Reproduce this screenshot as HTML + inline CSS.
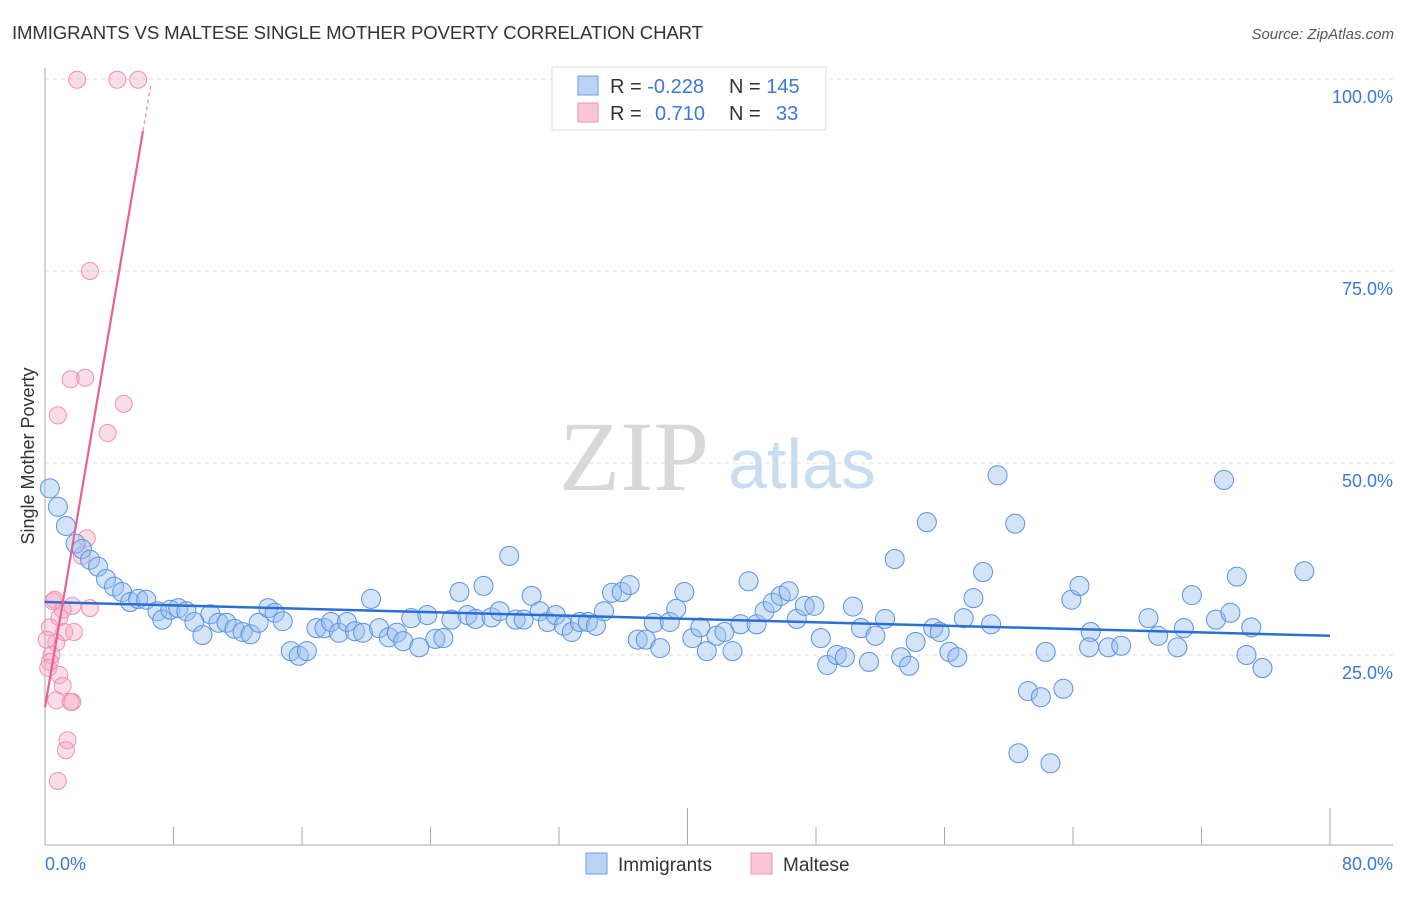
<!DOCTYPE html>
<html><head><meta charset="utf-8"><style>
body{margin:0;background:#fff;font-family:"Liberation Sans",sans-serif}
</style></head><body>
<svg id="chart" width="1406" height="892" viewBox="0 0 1406 892" xmlns="http://www.w3.org/2000/svg" font-family="Liberation Sans, sans-serif">
<text x="12" y="39" font-size="18.6" fill="#333" textLength="691">IMMIGRANTS VS MALTESE SINGLE MOTHER POVERTY CORRELATION CHART</text>
<text x="1394" y="39" font-size="15" fill="#555" font-style="italic" text-anchor="end">Source: ZipAtlas.com</text>
<g>
<text x="634" y="490" font-size="100" fill="#d8d8d8" style="font-family:'Liberation Serif',serif" text-anchor="middle">ZIP</text>
<text x="802" y="488" font-size="70" fill="#c8dcf2" text-anchor="middle">atlas</text>
</g>
<g id="grid"></g>
<g id="axes"></g>
<text transform="translate(34,456) rotate(-90)" font-size="18" fill="#333" text-anchor="middle">Single Mother Poverty</text>
<g id="marks"></g>
<g>
<rect x="552" y="67" width="274" height="63" fill="#fff" stroke="#ddd"/>
<rect x="578" y="76" width="20" height="19" fill="#b9d3f5" stroke="#6b9fe0"/>
<rect x="578" y="103" width="20" height="19" fill="#f9c6d6" stroke="#ec94b0"/>
<text x="610" y="93" font-size="20" fill="#333">R = <tspan fill="#3b78d8">-0.228</tspan></text>
<text x="729" y="93" font-size="20" fill="#333">N = <tspan fill="#3b78d8">145</tspan></text>
<text x="610" y="120" font-size="20" fill="#333">R = <tspan fill="#3b78d8" x="655">0.710</tspan></text>
<text x="729" y="120" font-size="20" fill="#333">N = <tspan fill="#3b78d8" x="776">33</tspan></text>
</g>
<g>
<rect x="586" y="853" width="21" height="21" fill="#b9d3f5" stroke="#6b9fe0"/>
<text x="618" y="871" font-size="19" fill="#333">Immigrants</text>
<rect x="751" y="853" width="21" height="21" fill="#f9c6d6" stroke="#ec94b0"/>
<text x="783" y="871" font-size="19" fill="#333">Maltese</text>
</g>
</svg>
<script>
const yTicks=[25,50,75,100];
const yTickLabels=["25.0%","50.0%","75.0%","100.0%"];
const xTicks=[0,8,16,24,32,40,48,56,64,72,80];
const xMajorTicks=[40,80];
const xTickLabels=["0.0%","80.0%"];
const immX=[0.3,0.8,1.3,1.9,2.3,2.8,3.3,3.8,4.3,4.8,5.3,5.8,6.3,7.0,7.3,7.8,8.3,8.8,9.3,9.8,10.3,10.8,11.3,11.8,12.3,12.8,13.3,13.9,14.3,14.8,15.3,15.8,16.3,16.9,17.4,17.8,18.3,18.8,19.3,19.8,20.3,20.8,21.4,21.9,22.3,22.8,23.3,23.8,24.3,24.8,25.3,25.8,26.3,26.8,27.3,27.8,28.3,28.9,29.3,29.8,30.3,30.8,31.3,31.8,32.3,32.8,33.3,33.8,34.3,34.8,35.3,35.9,36.4,36.9,37.4,37.9,38.3,38.9,39.3,39.8,40.3,40.8,41.2,41.8,42.3,42.8,43.3,43.8,44.3,44.8,45.3,45.8,46.3,46.8,47.3,47.9,48.3,48.7,49.3,49.8,50.3,50.8,51.3,51.7,52.3,52.9,53.3,53.8,54.2,54.9,55.3,55.7,56.3,56.8,57.2,57.8,58.4,58.9,59.3,60.4,60.6,61.2,62.0,62.3,62.6,63.4,63.9,64.4,65.1,65.0,66.2,67.0,68.7,69.3,70.5,70.9,71.4,72.9,73.4,73.8,74.2,74.8,75.1,75.8,78.4];
const immY=[46.7,44.3,41.8,39.5,38.8,37.4,36.5,34.9,33.9,33.2,31.9,32.3,32.2,30.7,29.6,30.9,31.1,30.7,29.3,27.6,30.3,29.2,29.2,28.4,28.0,27.7,29.2,31.1,30.5,29.4,25.5,24.9,25.5,28.5,28.5,29.3,27.9,29.3,28.1,27.9,32.3,28.5,27.3,27.9,26.8,29.8,26.0,30.2,27.1,27.2,29.6,33.2,30.2,29.7,34.0,29.9,30.7,37.9,29.6,29.6,32.7,30.7,29.3,30.2,28.8,28.0,29.3,29.3,28.8,30.7,33.1,33.2,34.1,27.0,27.0,29.2,25.9,29.3,31.0,33.2,27.2,28.6,25.5,27.5,28.0,25.5,29.0,34.6,29.0,30.7,31.8,32.7,33.3,29.7,31.4,31.4,27.2,23.7,25.0,24.7,31.3,28.5,24.1,27.5,29.7,37.5,24.7,23.6,26.7,42.3,28.5,28.0,25.4,24.7,29.8,32.4,35.8,29.0,48.4,42.1,12.2,20.3,19.5,25.4,10.9,20.6,32.2,34.0,28.0,26.0,26.0,26.2,29.8,27.5,26.0,28.5,32.8,29.6,47.8,30.5,35.2,25.0,28.6,23.3,35.9];
const malX=[2.0,4.5,5.8,2.8,0.8,1.6,2.5,4.9,3.9,2.6,2.3,0.5,0.9,1.7,2.8,0.3,1.2,1.1,0.7,0.4,0.3,0.2,0.9,1.1,0.7,1.7,1.6,1.4,1.3,0.8,0.1,1.8,0.6];
const malY=[99.9,99.9,99.9,75,56.2,60.9,61.1,57.7,53.9,40.2,37.9,32.0,29.9,31.4,31.1,28.6,28.0,30.9,26.6,25.0,24.1,23.3,22.4,21.0,19.1,18.9,18.9,13.9,12.6,8.6,27.0,28.0,32.2];
const immTrend=[31.9,27.5];
const malTrend=[18.2,12.3];
const NS="http://www.w3.org/2000/svg";
const X0=45,X1=1330,Y0=847,PXY=7.68;
function sx(v){return X0+v*(X1-X0)/80;}
function sy(v){return Y0-v*PXY;}
function mk(tag,attrs,parent){const e=document.createElementNS(NS,tag);for(const k in attrs)e.setAttribute(k,attrs[k]);parent.appendChild(e);return e;}
const grid=document.getElementById('grid'),axes=document.getElementById('axes'),marks=document.getElementById('marks');
yTicks.forEach((t,i)=>{
const l=mk('line',{x1:45,x2:1393,y1:sy(t),y2:sy(t),stroke:'#ddd','stroke-dasharray':'4 4'},grid);


const tx=mk('text',{x:1393,y:sy(t)+24,'font-size':18,fill:'#3b78d8','text-anchor':'end'},axes);
tx.textContent=yTickLabels[i];


});
const ax=mk('line',{x1:45,x2:45,y1:68,y2:845,stroke:'#aaa'},axes);


const bx=mk('line',{x1:45,x2:1393,y1:845,y2:845,stroke:'#aaa'},axes);


xTicks.forEach(t=>{
if(t===0)return;
const major=xMajorTicks.includes(t);
const tk=mk('line',{x1:sx(t),x2:sx(t),y1:major?808:827,y2:845,stroke:'#aaa'},axes);


});
const xl0=mk('text',{x:45,y:870,'font-size':18,fill:'#3b78d8'},axes);
xl0.textContent=xTickLabels[0];


const xl1=mk('text',{x:1393,y:870,'font-size':18,fill:'#3b78d8','text-anchor':'end'},axes);
xl1.textContent=xTickLabels[1];


malX.forEach((x,i)=>{
const c=mk('circle',{cx:sx(x),cy:sy(malY[i]),r:8.5,fill:'rgba(245,165,192,0.38)',stroke:'#eb93b0','stroke-width':1},marks);


});
immX.forEach((x,i)=>{
const c=mk('circle',{cx:sx(x),cy:sy(immY[i]),r:9.5,fill:'rgba(150,190,240,0.42)',stroke:'#5a92e0','stroke-width':1},marks);


});
const it=mk('line',{x1:sx(0),y1:sy(immTrend[0]),x2:sx(80),y2:sy(immTrend[1]),stroke:'#2a6fd6','stroke-width':2.5},marks);


const xs=6.1,xe=6.6;
const mt=mk('line',{x1:sx(0),y1:sy(malTrend[0]),x2:sx(xs),y2:sy(malTrend[0]+malTrend[1]*xs),stroke:'#e8628f','stroke-width':2.2},marks);


const md=mk('line',{x1:sx(xs),y1:sy(malTrend[0]+malTrend[1]*xs),x2:sx(xe),y2:sy(malTrend[0]+malTrend[1]*xe),stroke:'#e8a0b8','stroke-width':1.5,'stroke-dasharray':'4 3'},marks);


</script>
</body></html>
